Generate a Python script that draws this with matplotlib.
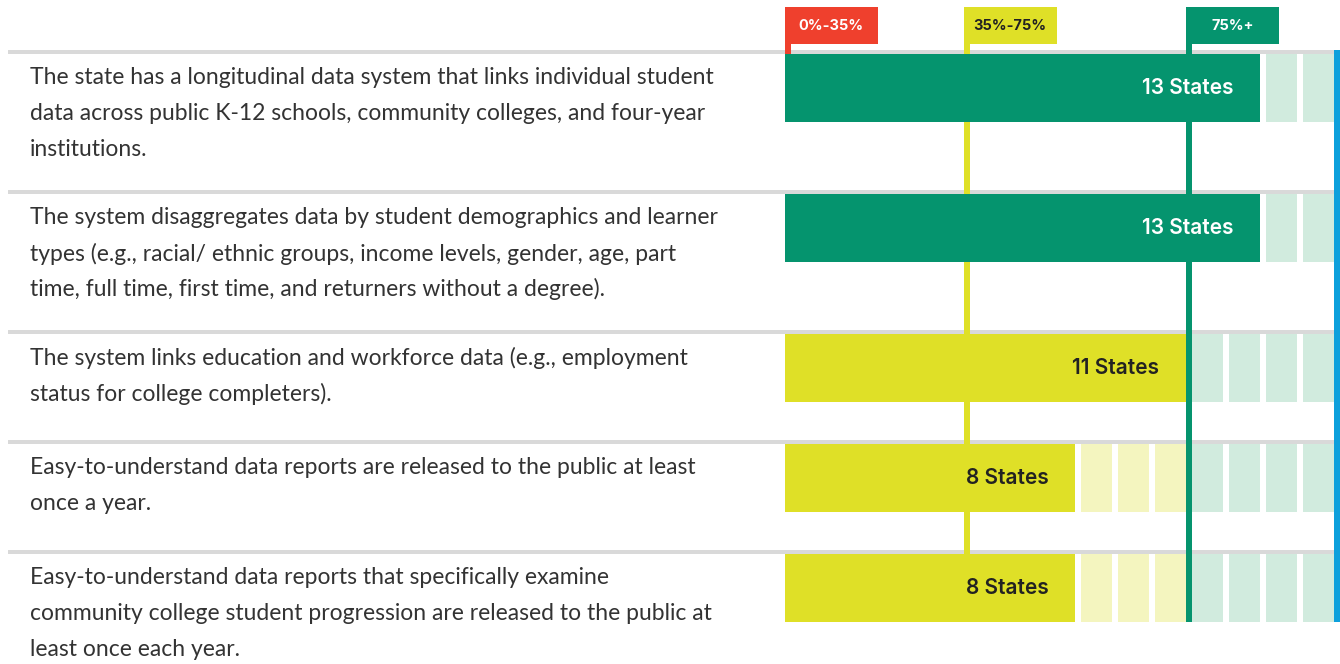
import matplotlib.pyplot as plt

# data
statements = [
    "The state has a longitudinal data system that links individual student\n"
    "data across public K-12 schools, community colleges, and four-year\n"
    "institutions.",
    "The system disaggregates data by student demographics and learner\n"
    "types (e.g., racial/ ethnic groups, income levels, gender, age, part\n"
    "time, full time, first time, and returners without a degree).",
    "The system links education and workforce data (e.g., employment\n"
    "status for college completers).",
    "Easy-to-understand data reports are released to the public at least\n"
    "once a year.",
    "Easy-to-understand data reports that specifically examine\n"
    "community college student progression are released to the public at\n"
    "least once each year.",
]
n_states = [13, 13, 11, 8, 8]
total_states = 15
band_labels = ["0%-35%", "35%-75%", "75%+"]
band_cuts = [0.0, 0.35, 0.75]

# colours
band_colors = ["#EF402D", "#DFE027", "#05946E"]
band_light = ["#F9D0CB", "#F4F5BF", "#D1EBDE"]
band_text = ["white", "#222222", "white"]
gray = "#D9D9D9"
blue = "#0DA0DC"

W, H = 1340, 664
x0_px, unit_px = 785, 37
gap = 6 / unit_px
px2pt = 0.72

fig = plt.figure(figsize=(W / 100, H / 100), dpi=100)
ax = fig.add_axes([x0_px / W, 0, total_states * unit_px / W, 1])
ax.set_xlim(0, total_states)
ax.set_ylim(H, 0)
ax.axis("off")


def band_of(k):
    frac = k / total_states
    b = 0
    for i, c in enumerate(band_cuts):
        if frac > c:
            b = i
    return b


# row layout from number of text lines
row_tops = []
y = 52
for s in statements:
    row_tops.append(y)
    y += 30 * len(s.split("\n")) + 50
bar_h = 68
bottom = row_tops[-1] + 2 + bar_h

# band boundaries (cell counts)
cut_cells = [0]
for k in range(1, total_states + 1):
    if band_of(k) != band_of(k - 1) and k > 1:
        cut_cells.append(k - 1)

# threshold lines + header boxes
for i, c in enumerate(cut_cells):
    left = max(0, c - gap)
    xc = left + gap / 2
    y_end = 56 if i == 0 else bottom
    ax.vlines(xc, 44, y_end, color=band_colors[i], lw=6 * px2pt, zorder=1)
    ax.barh(7, 2.5, left=left, height=37, align="edge",
            color=band_colors[i], zorder=3)
    ax.text(left + 1.25, 26, band_labels[i], ha="center", va="center",
            fontsize=10.5, fontweight="bold", family="Inter",
            color=band_text[i], zorder=4)

# gray separators
ax.hlines(row_tops, (8 - x0_px) / unit_px, total_states - gap,
          color=gray, lw=4 * px2pt, zorder=0, clip_on=False)

# blue right edge
ax.vlines(total_states - gap / 2, 50, bottom, color=blue,
          lw=6 * px2pt, zorder=3)

for top, n, s in zip(row_tops, n_states, statements):
    b = band_of(n)
    ax.barh(top + 2, n - gap, left=0, height=bar_h, align="edge",
            color=band_colors[b], zorder=2)
    for k in range(n + 1, total_states + 1):
        ax.barh(top + 2, 1 - gap, left=k - 1, height=bar_h, align="edge",
                color=band_light[band_of(k)], zorder=2)
    ax.text(n - gap - 0.72, top + 2 + bar_h / 2, f"{n} States",
            ha="right", va="center", fontsize=15, fontweight="semibold",
            family="Inter", color=band_text[b], zorder=4)
    for j, line in enumerate(s.split("\n")):
        fig.text(30 / W, 1 - (top + 26 + 35.5 * j) / H, line,
                 ha="left", va="center", fontsize=16.5, family="Lato",
                 color="#333333")

fig.savefig("out.png", dpi=100, facecolor="white")
